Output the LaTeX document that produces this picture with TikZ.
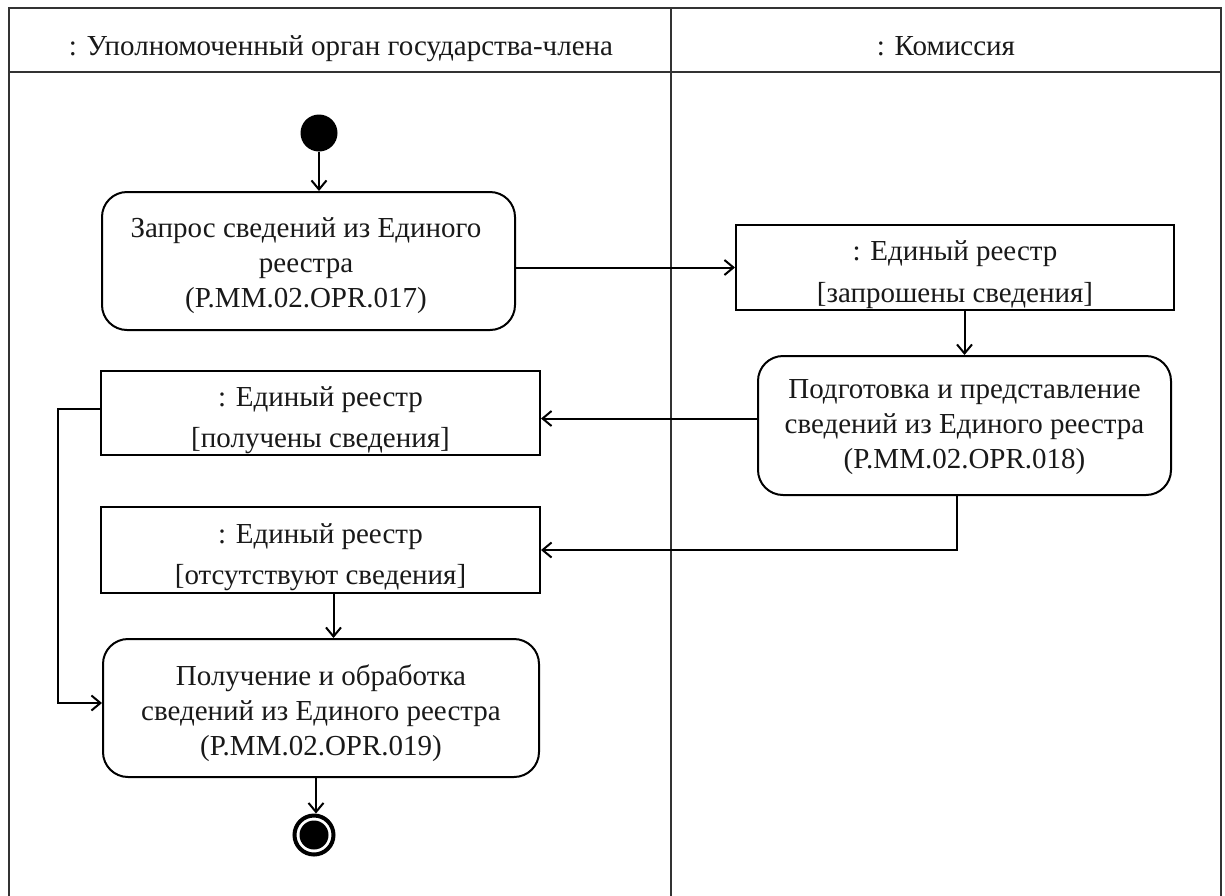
\documentclass[tikz,border=0pt]{standalone}
\usepackage{fontspec}
\setmainfont{Liberation Serif}
\usetikzlibrary{arrows.meta,calc}
\begin{document}
\begin{tikzpicture}[x=1pt,y=-1pt,
  txt/.style={font=\fontsize{29}{35}\selectfont, align=center, inner sep=0pt, anchor=base, text=black!90},
  act/.style={draw, line width=2pt, rounded corners=25pt},
  obj/.style={draw, line width=2pt},
  arr/.style={draw, line width=2pt, -{Straight Barb[length=9pt,width=15pt,line width=2pt]}},
  frm/.style={draw, line width=2.5pt, black!80}]
\useasboundingbox (0,0) rectangle (1225,895);
% frame
\draw[frm] (9,908) -- (9,8) -- (1221,8) -- (1221,908);
\draw[frm] (9,72) -- (1221,72);
\draw[frm] (671,8) -- (671,908);
\node[txt] (h1) at (341,55) {: Уполномоченный орган государства-члена};
\node[txt] (h2) at (946,55) {: Комиссия};
% nodes
\node[circle, fill=black, minimum size=37pt, inner sep=0pt] (init) at (319,133) {};
\node[act, minimum width=413pt, minimum height=138pt] (A) at (308.5,261) {};
\node[txt] (At) at (306,307) {Запрос сведений из Единого\\реестра\\(P.MM.02.OPR.017)};
\node[obj, minimum width=438pt, minimum height=85pt] (B) at (955,267.5) {};
\node[txt] (Bt1) at (955,260) {: Единый реестр};
\node[txt] (Bt2) at (955,302) {[запрошены сведения]};
\node[act, minimum width=413pt, minimum height=139pt] (C) at (964.5,425.5) {};
\node[txt] (Ct) at (964.5,468) {Подготовка и представление\\сведений из Единого реестра\\(P.MM.02.OPR.018)};
\node[obj, minimum width=439pt, minimum height=84pt] (D) at (320.5,413) {};
\node[txt] (Dt1) at (320.5,406) {: Единый реестр};
\node[txt] (Dt2) at (320.5,447) {[получены сведения]};
\node[obj, minimum width=439pt, minimum height=86pt] (E) at (320.5,550) {};
\node[txt] (Et1) at (320.5,543) {: Единый реестр};
\node[txt] (Et2) at (320.5,584) {[отсутствуют сведения]};
\node[act, minimum width=436pt, minimum height=138pt] (F) at (321,708) {};
\node[txt] (Ft) at (321,755) {Получение и обработка\\сведений из Единого реестра\\(P.MM.02.OPR.019)};
\node[circle, draw, line width=4pt, minimum size=39pt, inner sep=0pt] (fin) at (314,835) {};
\node[circle, fill=black, minimum size=29pt, inner sep=0pt] (finin) at (fin) {};
\coordinate (Dw) at ([yshift=4pt]D.west);
\coordinate (Fw) at ([yshift=5pt]F.west);
\coordinate (bend) at (58,0);
% connectors
\draw[arr] (init.south) -- (init.south |- A.north);
\draw[arr] (A.east |- B.west) -- (B.west);
\draw[arr] (C.north |- B.south) -- (C.north);
\draw[arr] ([yshift=7pt]C.west) -- ([yshift=7pt]C.west -| D.east);
\draw[arr] ([xshift=-8pt]C.south) |- (E.east);
\draw[arr] ([xshift=13pt]E.south) -- ([xshift=13pt]E.south |- F.north);
\draw[arr] (Dw) -- (bend |- Dw) |- (Fw);
\draw[arr] ([xshift=2pt]fin.north |- F.south) -- ([xshift=2pt]fin.north);
\end{tikzpicture}
\end{document}
